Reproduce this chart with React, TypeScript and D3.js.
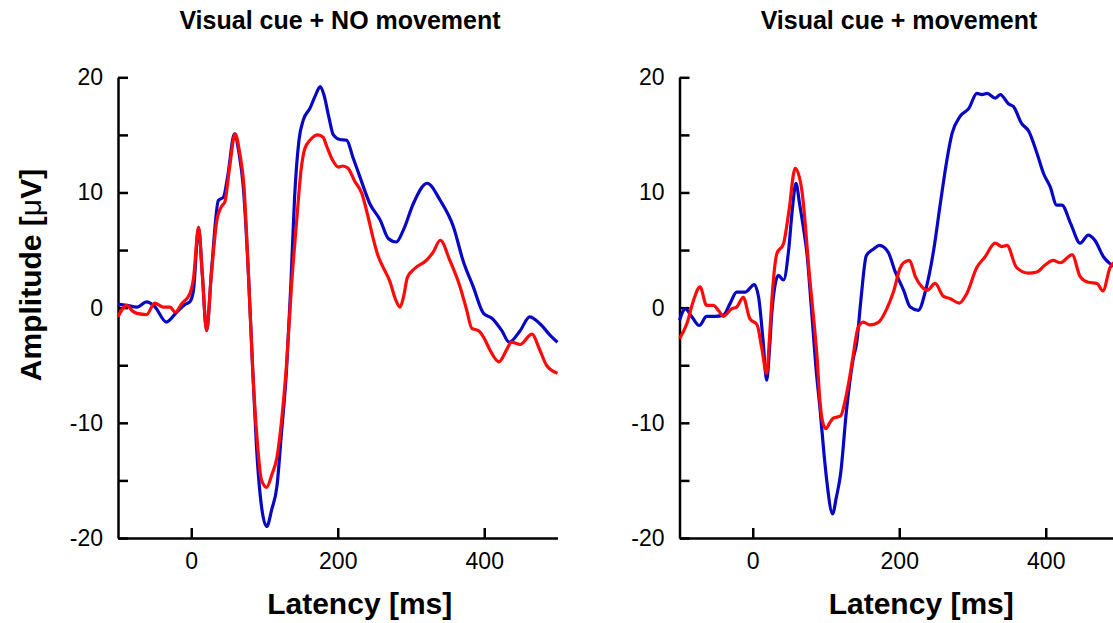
import React, { useEffect, useRef } from "react";
import * as d3 from "d3";

const panelTitles = ["Visual cue + NO movement", "Visual cue + movement"];
const yTicks = [-20, -10, 0, 10, 20];
const yMinorTicks = [-15, -5, 5, 15];
const xTicks = [0, 200, 400];

// [latency ms, amplitude µV]
const noMoveBlue: [number, number][] = [
  [-100, 0.3], [-88, 0.2], [-74, 0.05], [-61, 0.5], [-50, 0.1], [-34, -1.25], [-20, -0.4],
  [-8, 0.3], [-2, 0.5], [3, 1.5], [10, 6.9], [15, 3], [21, -2], [28, 3.5], [37, 9.3],
  [44, 9.6], [50, 11.5], [59, 15.1], [65, 13.5], [71, 10.5], [78, 3], [84, -5.5], [89, -12],
  [96, -17.3], [103, -19], [110, -17.5], [117, -15.5], [123, -11], [130, -5.5], [136, 2],
  [141, 9.5], [147, 14.5], [153, 16.3], [162, 17.3], [170, 18.5], [176, 19.2], [181, 18.5],
  [188, 16.5], [194, 15.0], [203, 14.6], [212, 14.55], [221, 13], [230, 11.4], [244, 9.0],
  [258, 7.6], [269, 6.0], [280, 5.7], [290, 6.8], [303, 9.0], [322, 10.8], [340, 9.3],
  [358, 7.0], [371, 4.1], [385, 1.8], [399, -0.5], [410, -0.9], [424, -2.0], [434, -3.0],
  [449, -2.0], [462, -0.8], [476, -1.4], [490, -2.4], [500, -3.0],
];

const noMoveRed: [number, number][] = [
  [-100, -0.8], [-88, 0.2], [-80, -0.3], [-74, -0.5], [-61, -0.6], [-50, 0.4], [-38, 0.05],
  [-29, 0.05], [-22, -0.4], [-13, 0.35], [-2, 1.2], [3, 2.5], [10, 7.0], [15, 3], [21, -2.0],
  [27, 2.5], [35, 7.6], [41, 8.75], [46, 9.2], [52, 12], [60, 15.1], [66, 13.5], [72, 10.5],
  [78, 3], [84, -5.5], [90, -11.5], [96, -15], [103, -15.6], [110, -14.5], [117, -13],
  [123, -10], [130, -5], [137, 2], [144, 7.6], [150, 12], [155, 13.8], [163, 14.6],
  [173, 15.0], [180, 14.8], [185, 14.0], [193, 12.8], [201, 12.2], [207, 12.3], [214, 12.1],
  [223, 11], [233, 9.9], [241, 8.0], [248, 6.1], [255, 4.5], [262, 3.5], [271, 2.3],
  [279, 0.7], [285, 0.05], [290, 1.0], [295, 2.6], [305, 3.4], [321, 4.1], [330, 4.8],
  [340, 5.85], [353, 4.1], [367, 1.8], [376, -0.2], [383, -1.8], [392, -2.0], [399, -2.55],
  [408, -3.7], [420, -4.7], [431, -3.6], [437, -3.0], [449, -3.2], [465, -2.3], [476, -3.7],
  [485, -5.0], [500, -5.7],
];

const moveBlue: [number, number][] = [
  [-100, -1.1], [-92, -0.1], [-83, -0.8], [-73, -1.55], [-63, -0.75], [-51, -0.75],
  [-40, -0.65], [-31, 0.35], [-22, 1.35], [-10, 1.35], [2, 2.0], [8, 0.9], [14, -2.8],
  [19, -6.3], [23, -3.5], [26, -0.5], [30, 1.8], [35, 2.8], [42, 2.4], [49, 5.0], [54, 8.5],
  [59, 10.8], [64, 9], [69, 7], [74, 4.7], [80, 0], [87, -5.7], [92, -8.9], [97, -12.5],
  [101, -15], [109, -17.9], [114, -16.5], [120, -14.4], [128, -8.9], [137, -4.5], [142, -3],
  [148, 0.9], [155, 4.5], [165, 5.1], [173, 5.4], [185, 4.8], [194, 3.2], [206, 1.5],
  [215, 0.05], [226, -0.23], [236, 1.5], [247, 5.0], [256, 9.0], [265, 12.8], [272, 15.1],
  [283, 16.6], [295, 17.3], [306, 18.6], [313, 18.5], [320, 18.6], [331, 18.2], [338, 18.5],
  [349, 17.7], [356, 17.45], [367, 16.0], [377, 15.3], [388, 13.4], [397, 11.65],
  [406, 10.5], [415, 8.9], [422, 8.9], [434, 7.3], [447, 5.6], [458, 6.3], [467, 5.85],
  [479, 4.4], [488, 3.8], [500, 3.4],
];

const moveRed: [number, number][] = [
  [-100, -2.7], [-90, -1.4], [-81, 0.6], [-72, 1.8], [-63, 0.2], [-54, 0.2], [-47, -0.23],
  [-40, -0.75], [-29, -0.1], [-22, 0.05], [-13, 0.9], [-4, -0.95], [6, -1.5], [12, -3.4],
  [19, -5.7], [23, -2.5], [26, 0.6], [33, 4.7], [42, 5.55], [49, 8.2], [58, 12.1],
  [67, 10.2], [78, 2.4], [84, -1.5], [88, -4.5], [91, -7.5], [95, -9.8], [100, -10.5],
  [105, -10.0], [110, -9.6], [120, -9.4], [126, -8.1], [131, -6.5], [136, -4.6],
  [144, -1.7], [151, -1.25], [160, -1.5], [172, -1.25], [183, -0.1], [192, 1.35],
  [201, 3.4], [206, 3.9], [214, 4.1], [222, 2.7], [231, 1.8], [238, 1.5], [249, 2.1],
  [260, 1.0], [269, 0.8], [282, 0.4], [292, 1.2], [306, 3.5], [317, 4.4], [331, 5.6],
  [340, 5.3], [347, 5.4], [360, 3.5], [376, 3.0], [388, 3.1], [399, 3.7], [410, 4.1],
  [420, 3.9], [436, 4.6], [447, 2.7], [458, 2.2], [470, 2.1], [478, 1.45], [488, 3.5],
  [500, 4.2],
];

const W = 1113;
const H = 623;
const FONT = "'Liberation Sans', Arial, Helvetica, sans-serif";
const BLUE = "#0808c4";
const RED = "#ff0a0a";

export default function App() {
  const ref = useRef<SVGSVGElement>(null);

  useEffect(() => {
    const svg = d3.select(ref.current);
    svg.selectAll("*").remove();

    const panels = [
      { x0: 118, x1: 557.5, titleX: 340, title: panelTitles[0], blue: noMoveBlue, red: noMoveRed },
      { x0: 679.5, x1: 1119, titleX: 899, title: panelTitles[1], blue: moveBlue, red: moveRed },
    ];

    const y = d3.scaleLinear().domain([-20, 20]).range([538, 77.3]);
    const fmt = (d: d3.NumberValue) => String(d);

    panels.forEach((p) => {
      const x = d3.scaleLinear().domain([-100, 500]).range([p.x0, p.x1]);
      const g = svg.append("g");

      // y axis, major + minor ticks pointing inward
      const yAxis = g.append("g")
        .attr("transform", `translate(${p.x0},0)`)
        .call(d3.axisLeft(y).tickValues(yTicks).tickSizeInner(-10).tickSizeOuter(0).tickPadding(15)
          .tickFormat(fmt));
      g.append("g")
        .attr("transform", `translate(${p.x0},0)`)
        .call(d3.axisLeft(y).tickValues(yMinorTicks).tickSizeInner(-10).tickSizeOuter(0).tickFormat(() => ""))
        .select(".domain").remove();

      // x axis
      const xAxis = g.append("g")
        .attr("transform", `translate(0,${y(-20)})`)
        .call(d3.axisBottom(x).tickValues(xTicks).tickSizeInner(-10).tickSizeOuter(0).tickPadding(15)
          .tickFormat(fmt));

      [yAxis, xAxis].forEach(a => {
        a.selectAll("text").style("font-family", FONT).style("font-size", "23px").attr("fill", "#000");
      });
      g.selectAll(".domain, .tick line").attr("stroke", "#000").attr("stroke-width", 2.5);

      const line = d3.line<[number, number]>()
        .x(d => x(d[0]))
        .y(d => y(d[1]))
        .curve(d3.curveMonotoneX);

      g.append("path").datum(p.blue).attr("d", line).attr("fill", "none")
        .attr("stroke", BLUE).attr("stroke-width", 3.2).attr("stroke-linejoin", "round");
      g.append("path").datum(p.red).attr("d", line).attr("fill", "none")
        .attr("stroke", RED).attr("stroke-width", 3.2).attr("stroke-linejoin", "round");

      g.append("text")
        .attr("x", p.titleX)
        .attr("y", 29)
        .attr("text-anchor", "middle")
        .style("font-family", FONT).style("font-weight", "bold").style("font-size", "25px")
        .text(p.title);

      g.append("text")
        .attr("x", x(230))
        .attr("y", 614)
        .attr("text-anchor", "middle")
        .style("font-family", FONT).style("font-weight", "bold").style("font-size", "30px")
        .text("Latency [ms]");
    });

    const yl = svg.append("text")
      .attr("transform", "translate(41,275) rotate(-90)")
      .attr("text-anchor", "middle")
      .style("font-family", FONT).style("font-weight", "bold").style("font-size", "30px");
    yl.append("tspan").text("Amplitude [");
    yl.append("tspan").style("font-weight", "normal").text("μ");
    yl.append("tspan").text("V]");
  }, []);

  return (
    <svg
      ref={ref}
      width={W}
      height={H}
      style={{ position: "absolute", left: 0, top: 0, display: "block", background: "#fff" }}
    />
  );
}
